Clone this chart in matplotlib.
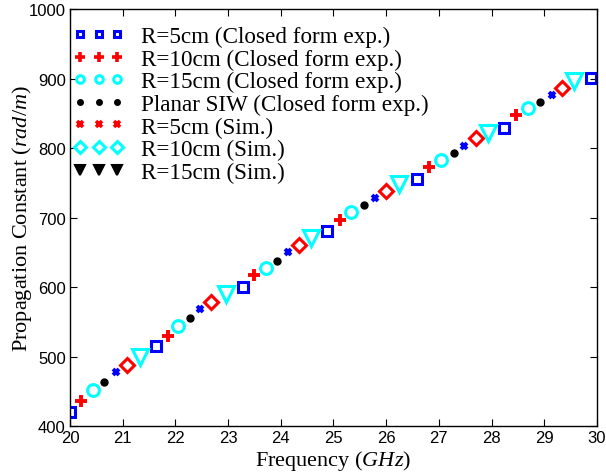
import matplotlib
matplotlib.use("Agg")
import matplotlib.pyplot as plt
from matplotlib.lines import Line2D

plt.rcParams['mathtext.fontset'] = 'custom'
plt.rcParams['mathtext.rm'] = 'Liberation Serif'
plt.rcParams['mathtext.it'] = 'Liberation Serif:italic'

# closed form expressions
f_r5 = [20.0, 21.63, 23.28, 24.88, 26.58, 28.24, 29.89]
b_r5 = [420, 515, 600, 681, 755, 829, 901]
f_r10 = [20.21, 21.86, 23.49, 25.12, 26.81, 28.46]
b_r10 = [436, 530, 617, 696, 773, 847]
f_r15 = [20.44, 22.05, 23.72, 25.33, 27.04, 28.69]
b_r15 = [452, 544, 627, 708, 783, 857]
f_planar = [20.65, 22.28, 23.93, 25.58, 27.29, 28.92]
b_planar = [463, 555, 637, 718, 793, 866]

# simulations
f_s5 = [20.87, 22.47, 24.14, 25.79, 27.48, 29.15]
b_s5 = [478, 568, 650, 728, 803, 876]
f_s10 = [21.08, 22.68, 24.35, 26.0, 27.70, 29.34]
b_s10 = [488, 578, 660, 738, 814, 886]
f_s15 = [21.33, 22.96, 24.57, 26.25, 27.93, 29.56]
b_s15 = [499, 590, 670, 748, 822, 896]

labels = ['R=5cm (Closed form exp.)', 'R=10cm (Closed form exp.)',
          'R=15cm (Closed form exp.)', 'Planar SIW (Closed form exp.)',
          'R=5cm (Sim.)', 'R=10cm (Sim.)', 'R=15cm (Sim.)']

fig = plt.figure(figsize=(6.06, 4.77), dpi=100)
ax = fig.add_axes([0.1155, 0.1048, 0.8695, 0.8742])

ax.plot(f_r5, b_r5, 's', ms=6.5, mfc='none', mec='blue', mew=2.2, ls='none')
ax.plot(f_r10, b_r10, '+', ms=8.5, mec='red', mew=2.8, ls='none')
ax.plot(f_r15, b_r15, 'o', ms=8.5, mfc='none', mec='cyan', mew=2.2, ls='none')
ax.plot(f_planar, b_planar, 'o', ms=5, mfc='black', mec='black', ls='none')
ax.plot(f_s5, b_s5, 'x', ms=5, mec='blue', mew=2.8, ls='none')
ax.plot(f_s10, b_s10, 'D', ms=7, mfc='none', mec='red', mew=2.2, ls='none')
ax.plot(f_s15, b_s15, 'v', ms=11, mfc='none', mec='cyan', mew=2.2, ls='none')

# legend as drawn in the original figure
handles = [
    Line2D([], [], marker='s', ms=5, mfc='none', mec='blue', mew=2.2, ls='none'),
    Line2D([], [], marker='+', ms=7, mec='red', mew=2.6, ls='none'),
    Line2D([], [], marker='o', ms=5.5, mfc='none', mec='cyan', mew=2.2, ls='none'),
    Line2D([], [], marker='o', ms=4, mfc='black', mec='black', ls='none'),
    Line2D([], [], marker='x', ms=4.5, mec='red', mew=2.6, ls='none'),
    Line2D([], [], marker='D', ms=6.5, mfc='none', mec='cyan', mew=2.2, ls='none'),
    Line2D([], [], marker='v', ms=7.5, mfc='black', mec='black', mew=1.5, ls='none'),
]
ax.legend(handles, labels, loc='upper left', numpoints=3, frameon=False,
          prop={'family': 'Liberation Serif', 'size': 16.7},
          labelspacing=0.06, handlelength=2.2, handletextpad=0.7,
          borderaxespad=0.2, bbox_to_anchor=(-0.02, 0.993))

ax.set_xlim(20, 30)
ax.set_ylim(400, 1000)
ax.set_xticks(range(20, 31))
ax.set_yticks(range(400, 1001, 100))
ax.tick_params(direction='in', length=5, top=True, right=True, labelsize=12, pad=3)
for t in ax.get_xticklabels() + ax.get_yticklabels():
    t.set_fontfamily('Liberation Sans')

ax.set_xlabel(r'Frequency ($\mathit{GHz}$)', fontsize=16, family='Liberation Serif', labelpad=2)
ax.set_ylabel(r'Propagation Constant ($\mathit{rad/m}$)', fontsize=16, family='Liberation Serif', labelpad=-4)
for s in ax.spines.values():
    s.set_linewidth(1.0)

fig.savefig('out.png', dpi=100)
